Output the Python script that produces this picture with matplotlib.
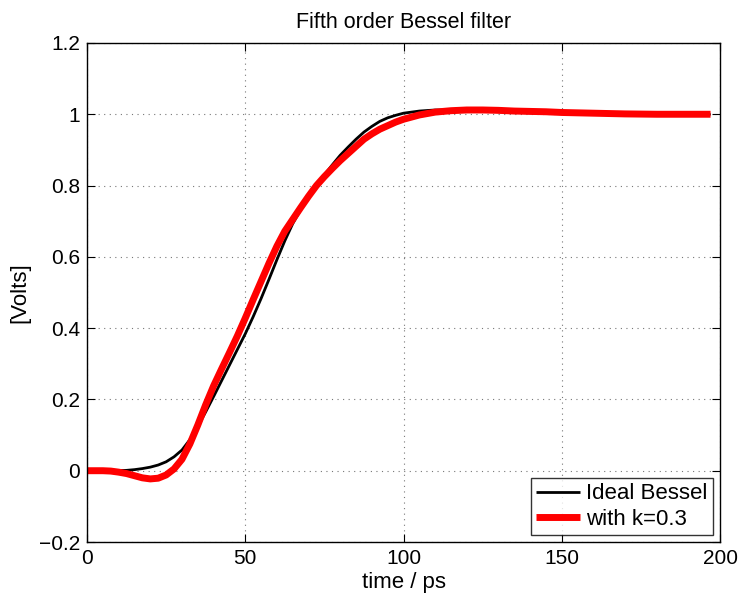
import numpy as np
import matplotlib
matplotlib.use("Agg")
import matplotlib.pyplot as plt

plt.rcParams['font.family'] = ['Liberation Sans', 'DejaVu Sans']

# ideal fifth order Bessel step response
t_ideal = [0, 5, 10, 12.5, 15, 17.5, 20, 22.5, 25, 27.5, 30, 32.5, 35, 37.5,
           40, 42.5, 45, 47.5, 50, 52.5, 55, 57.5, 60, 62.5, 65, 67.5, 70,
           72.5, 75, 77.5, 80, 82.5, 85, 87.5, 90, 92.5, 95, 97.5, 100, 105,
           110, 115, 120, 125, 130, 140, 150, 160, 170, 197]
v_ideal = [0, 0, 0.0005, 0.001, 0.003, 0.006, 0.010, 0.016, 0.025, 0.039,
           0.058, 0.087, 0.124, 0.165, 0.208, 0.252, 0.296, 0.34, 0.384,
           0.432, 0.483, 0.537, 0.592, 0.645, 0.693, 0.732, 0.766, 0.80,
           0.83, 0.858, 0.885, 0.908, 0.93, 0.95, 0.966, 0.98, 0.99, 0.997,
           1.003, 1.009, 1.012, 1.012, 1.011, 1.009, 1.007, 1.004, 1.002,
           1.001, 1.0, 1.0]

# response with k = 0.3
t_k = [0, 5, 7.5, 10, 12.5, 15, 17.5, 20, 22.5, 25, 27.5, 30, 32.5, 35,
       37.5, 40, 42.5, 45, 47.5, 50, 52.5, 55, 57.5, 60, 62.5, 65, 67.5, 70,
       72.5, 75, 77.5, 80, 82.5, 85, 87.5, 90, 92.5, 95, 97.5, 100, 105,
       110, 115, 120, 125, 130, 135, 140, 145, 150, 155, 160, 170, 180, 190,
       197]
v_k = [0, 0, -0.001, -0.004, -0.008, -0.014, -0.02, -0.023, -0.021, -0.012,
       0.005, 0.032, 0.075, 0.128, 0.185, 0.238, 0.285, 0.331, 0.378, 0.428,
       0.48, 0.531, 0.582, 0.63, 0.672, 0.705, 0.738, 0.77, 0.80, 0.825,
       0.848, 0.87, 0.89, 0.91, 0.93, 0.945, 0.958, 0.968, 0.978, 0.986,
       0.998, 1.006, 1.01, 1.012, 1.012, 1.011, 1.009, 1.008, 1.007, 1.005,
       1.004, 1.003, 1.001, 1.0, 1.0, 1.0]

xticks = [0, 50, 100, 150, 200]
yticks = [-0.2, 0, 0.2, 0.4, 0.6, 0.8, 1.0, 1.2]
ylabels = ['\u22120.2', '0', '0.2', '0.4', '0.6', '0.8', '1', '1.2']

fig = plt.figure(figsize=(7.41, 5.96), dpi=100)
ax = fig.add_axes([0.1174, 0.0906, 0.8543, 0.8373])

ax.plot(t_ideal, v_ideal, color='black', lw=2.0, label='Ideal Bessel',
        solid_capstyle='butt', solid_joinstyle='round')
ax.plot(t_k, v_k, color='#ff0000', lw=5.0, label='with k=0.3',
        solid_capstyle='butt', solid_joinstyle='round')

ax.set_xlim(0, 200)
ax.set_ylim(-0.2, 1.2)
ax.set_xticks(xticks)
ax.set_xticklabels([str(x) for x in xticks])
ax.set_yticks(yticks)
ax.set_yticklabels(ylabels)
ax.tick_params(direction='in', length=6, width=0.8, labelsize=15,
               top=True, right=True, pad=5)
ax.grid(True, color='#777777', linestyle=(0, (1, 4)), linewidth=0.8)
for s in ax.spines.values():
    s.set_linewidth(1.0)

ax.set_title('Fifth order Bessel filter', fontsize=15.5, pad=11)
ax.set_xlabel('time / ps', fontsize=16, labelpad=3)
ax.set_ylabel('[Volts]', fontsize=16, labelpad=6)

leg = ax.legend(loc='lower right', fontsize=16, frameon=True, fancybox=False,
                borderpad=0.25, handlelength=1.95, handletextpad=0.3,
                labelspacing=0.2, borderaxespad=0.3)
leg.get_frame().set_edgecolor('black')
leg.get_frame().set_linewidth(1.0)

fig.savefig('out.png', dpi=100)
